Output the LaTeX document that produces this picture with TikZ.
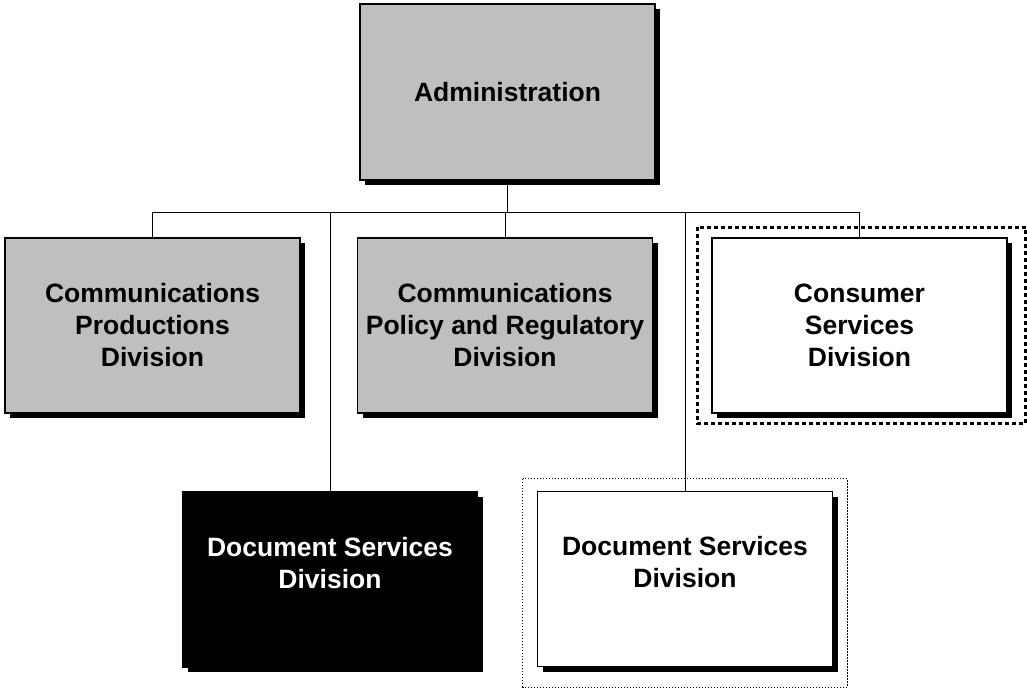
\documentclass[tikz,border=0pt]{standalone}
\usepackage{fontspec}
\setmainfont{Liberation Sans}
\usetikzlibrary{calc,shadows}
\colorlet{FilledBoxGray}{black!25}
\colorlet{FilledBoxDark}{black}
\colorlet{FilledBoxLight}{white}

\tikzset{
    unitbox/.style={rectangle, draw=black, line width=1.3pt,
        minimum width=295pt, minimum height=175pt, align=center,
        font=\fontsize{26.5}{32}\selectfont\bfseries,
        drop shadow={shadow xshift=5pt, shadow yshift=-5pt, fill=black, opacity=1}},
    link/.style={line width=1pt},
    thickframe/.style={line width=3pt, dash pattern=on 4pt off 3pt},
    thinframe/.style={line width=1pt, dash pattern=on 1.5pt off 1.5pt}
}

\begin{document}
\begin{tikzpicture}[x=1pt, y=-1pt]

    \useasboundingbox[fill=white] (0, 0) rectangle (1027, 690);

    \node [unitbox, fill=FilledBoxGray, minimum height=176pt] (admin) at (507.5, 92) {Administration};

    \node [unitbox, fill=FilledBoxGray] (prod) at (152.5, 325.5) {Communications\\Productions\\Division};
    \node [unitbox, fill=FilledBoxGray] (policy) at (505, 325.5) {Communications\\Policy and Regulatory\\Division};
    \node [unitbox, fill=FilledBoxLight] (consumer) at (859.5, 325.5) {Consumer\\Services\\Division};

    \node [unitbox, fill=FilledBoxDark, text=white] (docblack) at (330, 579.5) {Document Services\\Division\\[2pt]};
    \node [unitbox, fill=FilledBoxLight] (docwhite) at (685, 579) {Document Services\\Division\\[2pt]};

    % Barra horizontal que reparte las divisiones.
    \coordinate (bus) at (0, 212);

    \draw [link] (admin.south) -- (admin.south |- bus);
    \draw [link] (prod.north) -- (prod.north |- bus) -- (consumer.north |- bus) -- (consumer.north);
    \foreach \unit in {policy, docblack, docwhite}
        \draw [link] (\unit.north) -- (\unit.north |- bus);

    \draw [thickframe] ($(consumer.north west) + (-14, -10)$) rectangle ($(consumer.south east) + (18, 10)$);
    \draw [thinframe] ($(docwhite.north west) + (-14, -12)$) rectangle ($(docwhite.south east) + (14, 20)$);
\end{tikzpicture}
\end{document}
